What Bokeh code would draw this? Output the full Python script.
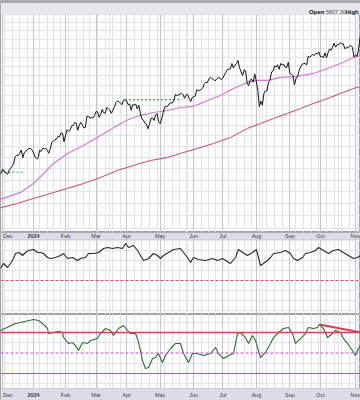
import numpy as np
import pandas as pd
from bokeh.plotting import figure
from bokeh.layouts import column
from bokeh.models import Range1d, FixedTicker, Grid, Span, Label, BoxAnnotation, ColumnDataSource
from bokeh.embed import file_html
from bokeh.resources import INLINE
from bokeh.core.properties import value

# ---------------- calendar (trading sessions) ----------------
HOLIDAYS = ["2023-11-23", "2023-12-25", "2024-01-01", "2024-01-15", "2024-02-19",
            "2024-03-29", "2024-05-27", "2024-06-19", "2024-07-04", "2024-09-02"]
MONTH_STARTS = ["2023-12-01", "2024-01-02", "2024-02-01", "2024-03-01", "2024-04-01", "2024-05-01",
                "2024-06-03", "2024-07-01", "2024-08-01", "2024-09-03", "2024-10-01", "2024-11-01"]
MONTH_LABELS = ["Dec", "2024", "Feb", "Mar", "Apr", "May", "Jun", "Jul", "Aug", "Sep", "Oct", "Nov"]
HEADER_TEXT = ["Open", "5807.30", "High"]

# ---------------- price (daily closes from 2023-11-29) ----------------
CLOSE_START = "2023-11-29"
CLOSES = [
    4550, 4568,
    4595, 4569, 4567, 4549, 4585, 4604, 4622, 4644, 4707, 4720, 4719, 4740, 4768, 4698, 4746, 4755, 4775, 4781, 4783, 4770,
    4743, 4705, 4689, 4697, 4764, 4756, 4783, 4780, 4784, 4766, 4739, 4780, 4840, 4850, 4865, 4869, 4894, 4891, 4928, 4925, 4846,
    4906, 4959, 4943, 4954, 4995, 4998, 5027, 5022, 4953, 5001, 5030, 5006, 4976, 4982, 5087, 5089, 5070, 5078, 5070, 5096,
    5137, 5131, 5079, 5105, 5157, 5124, 5117, 5175, 5165, 5150, 5117, 5149, 5179, 5225, 5241, 5234, 5218, 5204, 5248, 5254,
    5243, 5205, 5211, 5147, 5204, 5202, 5209, 5161, 5199, 5123, 5062, 5051, 5022, 5011, 4967, 5010, 5070, 5072, 5048, 5100, 5116, 5036,
    5018, 5064, 5128, 5181, 5187, 5188, 5214, 5223, 5221, 5247, 5308, 5297, 5303, 5308, 5321, 5307, 5268, 5305, 5306, 5267, 5236, 5278,
    5283, 5291, 5354, 5352, 5347, 5361, 5375, 5421, 5434, 5431, 5473, 5487, 5473, 5465, 5448, 5469, 5478, 5483, 5460,
    5475, 5509, 5537, 5567, 5572, 5577, 5633, 5585, 5615, 5631, 5667, 5589, 5545, 5505, 5564, 5556, 5427, 5399, 5459, 5464, 5436, 5522,
    5446, 5347, 5186, 5240, 5199, 5319, 5344, 5344, 5434, 5455, 5543, 5554, 5608, 5597, 5621, 5571, 5635, 5616, 5625, 5592, 5592, 5648,
    5529, 5520, 5503, 5408, 5471, 5496, 5554, 5596, 5626, 5633, 5634, 5618, 5713, 5703, 5718, 5732, 5722, 5745, 5738, 5762,
    5709, 5710, 5700, 5751, 5696, 5751, 5793, 5780, 5815, 5859, 5815, 5843, 5842, 5864, 5853, 5851, 5797, 5809, 5808, 5823, 5832, 5813, 5705,
    5729, 5712, 5782, 5929,
]
RESIST_LEVELS = [4568, 5254]
RESIST_FROM = [-21.6, 60]
RESIST_TO = [-5.9, 97]

# moving averages (session number, value), session 0 = 2024-01-02
MA50_X = [-21.6, -8.5, 0, 6.6, 13.1, 22.3, 32.8, 43.9, 55.0, 63.6, 70.1, 78.6, 87.8, 96.3, 104.8,
          114.0, 122.5, 131.1, 140.2, 146.8, 153.3, 161.9, 173.0, 183.5, 192.7, 201.2, 209.7, 214.3]
MA50_Y = [4335, 4394, 4470, 4557, 4646, 4737, 4810, 4904, 4999, 5067, 5097, 5126, 5146, 5176, 5186,
          5246, 5297, 5369, 5432, 5453, 5453, 5485, 5495, 5527, 5580, 5634, 5700, 5722]
MA200_X = [-21.6, -10.5, 0, 11.1, 22.3, 32.8, 43.9, 55.0, 65.5, 76.7, 87.8, 96.3, 107.5, 118.0,
           129.1, 140.2, 148.8, 157.3, 166.4, 175.0, 183.5, 192.7, 201.2, 209.7, 214.3]
MA200_Y = [4266, 4301, 4343, 4385, 4428, 4470, 4522, 4584, 4628, 4673, 4700, 4737, 4783, 4829,
           4885, 4971, 5019, 5067, 5117, 5166, 5216, 5266, 5318, 5369, 5390]

# middle indicator
IND_X = [-21.6, -19.7, -17.0, -15.1, -13.1, -11.8, -9.8, -8.5, -7.2, -5.2, -3.3, 0, 2.6, 4.6, 6.6, 9.2, 11.1,
         14.4, 17.7, 19.7, 22.3, 25.6, 28.8, 30.8, 34.1, 36.0, 39.3, 42.6, 45.9, 48.5, 51.8, 55.0, 58.3, 60.3,
         62.3, 65.5, 68.2, 70.1, 72.1, 75.4, 78.6, 81.3, 83.2, 85.2, 88.5, 91.7, 96.3, 98.3, 100.9, 102.9, 104.8,
         108.1, 112.7, 117.3, 120.6, 123.9, 129.1, 132.4, 134.3, 137.0, 140.2, 143.5, 146.1, 147.4, 148.8, 150.7,
         153.3, 155.3, 157.3, 161.9, 165.1, 168.4, 170.4, 173.0, 176.3, 178.2, 181.5, 184.8, 186.8, 190.0, 193.3,
         196.6, 199.9, 203.1, 206.4, 209.7, 212.3, 214.3]
IND_Y = [12, 17, 13, 17, 22, 27, 28, 27, 25, 28, 30, 31, 28, 28, 27, 23, 22,
         23, 25, 27, 22, 23, 20, 22, 23, 27, 27, 28, 32, 33, 32, 33, 32, 37,
         33, 35, 30, 25, 20, 22, 27, 25, 22, 25, 28, 31, 32, 28, 23, 18, 23,
         21, 20, 22, 20, 22, 17, 23, 31, 28, 25, 28, 31, 23, 15, 17,
         20, 23, 27, 28, 30, 27, 22, 20, 23, 27, 28, 30, 33, 30, 27,
         30, 31, 28, 25, 22, 23, 25]
IND_REF = 0

# RSI
RSI_X = [-21.6, -11.8, -8.5, 0, 3.3, 5.9, 9.2, 9.8, 13.1, 16.4, 19.0, 19.7, 22.9, 25.6, 27.5, 29.5, 32.1,
         35.4, 37.4, 41.9, 43.9, 47.2, 50.5, 52.4, 55.7, 59.0, 61.6, 63.6, 66.8, 68.2, 70.1, 71.4, 73.4, 75.4,
         78.0, 79.9, 81.9, 84.5, 86.5, 89.8, 93.1, 96.3, 98.3, 101.6, 104.2, 107.5, 111.4, 116.0, 119.3, 121.2,
         124.5, 127.8, 131.1, 133.7, 135.6, 138.9, 140.9, 143.5, 145.5, 147.4, 148.8, 152.0, 155.3, 157.3, 160.6,
         163.8, 167.1, 169.7, 171.7, 175.0, 178.2, 180.2, 183.5, 186.1, 187.4, 190.0, 192.7, 195.9, 197.9, 201.2,
         203.1, 205.8, 209.0, 211.0, 213.0, 214.3]
RSI_Y = [72, 78.8, 79.8, 82.7, 81.7, 78.8, 73.9, 69.0, 70.0, 71.0, 70.0, 65.1, 59.3, 60.2, 57.3, 52.4, 60.2,
         59.3, 62.2, 64.1, 69.0, 73.9, 72.0, 67.1, 73.9, 76.8, 72.0, 69.0, 69.0, 64.1, 52.4, 42.7, 34.9, 35.9,
         44.6, 45.6, 49.5, 40.7, 47.6, 54.4, 59.3, 59.3, 49.5, 40.7, 49.5, 49.5, 47.6, 49.5, 55.4, 49.5,
         44.6, 47.6, 49.5, 69.0, 70.0, 65.1, 59.3, 67.1, 62.2, 52.4, 45.6, 50.5, 59.3, 65.1, 70.0,
         73.9, 74.9, 69.0, 59.3, 64.1, 69.0, 74.9, 73.9, 74.9, 77.8, 73.9, 65.1, 69.0, 72.0, 70.0,
         64.1, 59.3, 52.4, 47.6, 54.4, 57.3]
RSI_LEVELS = [70, 50, 30]
TREND_X = [187.4, 214.3]
TREND_Y = [77.8, 70.2]

# ---------------- helpers ----------------
hol = pd.to_datetime(HOLIDAYS)
days = pd.bdate_range("2023-11-27", "2024-11-15")
days = days[~days.isin(hol)]
origin = days.get_loc(pd.Timestamp("2024-01-02"))
sess = pd.Series(np.arange(len(days)) - origin, index=days)

month_x = [int(sess[pd.Timestamp(d)]) for d in MONTH_STARTS]
wk = pd.Series(days.isocalendar().week.values, index=days)
week_x = [int(sess[d]) for i, d in enumerate(days) if i == 0 or wk.iloc[i] != wk.iloc[i - 1]]
week_x = [w for w in week_x if w not in month_x]

start = int(sess[pd.Timestamp(CLOSE_START)])
price_x = list(range(start, start + len(CLOSES)))

W = 360
X0, X1 = -21.63, 214.29
xr = Range1d(X0, X1)

GRID_MINOR = "#e1e2ea"
GRID_MAJOR = "#c4c6d0"
PANEL_BG = "#fdfdfe"
OUTLINE = "#9c9ea8"
STRIP_BG = "#dcdde4"
STRIP_LINE = "#8e909a"
FONT = "Liberation Sans"


def panel(h, y_range, y_ticks, log=False):
    p = figure(width=W, height=h, x_range=xr, y_range=y_range,
               y_axis_type="log" if log else "linear",
               x_axis_location=None, y_axis_location=None,
               output_backend="svg", toolbar_location=None, min_border=0)
    p.background_fill_color = PANEL_BG
    p.border_fill_color = PANEL_BG
    p.outline_line_color = OUTLINE
    p.add_layout(Grid(dimension=1, ticker=FixedTicker(ticks=y_ticks), grid_line_color=GRID_MINOR))
    p.add_layout(Grid(dimension=0, ticker=FixedTicker(ticks=week_x), grid_line_color=GRID_MINOR))
    p.add_layout(Grid(dimension=0, ticker=FixedTicker(ticks=month_x), grid_line_color=GRID_MAJOR))
    return p


def month_strip(p, lo, hi, ytext):
    p.add_layout(BoxAnnotation(bottom=lo, top=hi, left=X0, right=X1, fill_color=STRIP_BG, fill_alpha=1,
                               line_color=STRIP_LINE, line_width=1, level="underlay"))
    # the first label sits at the left edge: keep it fully inside the frame
    lx = [max(m, X0 + 0.4) for m in month_x]
    al = ["left" if m < X0 + 4 else "center" for m in month_x]
    src = ColumnDataSource(dict(x=lx, y=[ytext] * len(month_x), t=MONTH_LABELS, a=al,
                                w=["bold" if t.isdigit() else "normal" for t in MONTH_LABELS]))
    p.text(x="x", y="y", text="t", source=src, text_font=value(FONT),
           text_font_size="5.5px", text_align="a", text_baseline="middle",
           text_color="#3a3a44", text_font_style="w")


# ---------------- price panel (with header band on top) ----------------
# frame: y pixel 0..232 ; price 6192 at y=14, 4067 at y=232 (log)
P_LO, P_HI = 4067, 6362
P_HEAD = 6192
pp = panel(232, Range1d(P_LO, P_HI), list(range(4100, 6200, 100)), log=True)
pp.add_layout(BoxAnnotation(bottom=P_HEAD, top=P_HI, left=X0, right=X1, fill_color="#e6e7ec", fill_alpha=1,
                            line_color="#b4b6be", line_width=1, level="underlay"))
pp.add_layout(BoxAnnotation(bottom=6330, top=P_HI, left=X0, right=X1, fill_color="#a6a8b0", fill_alpha=1,
                            line_color=None, level="underlay"))
hx = [180.6, 191.6, 204.4]
hs = ["bold", "normal", "bold"]
hc = ["#111111", "#555555", "#111111"]
hf = ["6px", "5.5px", "6px"]
for t, xx, st, col, fs in zip(HEADER_TEXT, hx, hs, hc, hf):
    pp.add_layout(Label(x=xx, y=6218, text=t, text_font=FONT, text_font_size=fs,
                        text_font_style=st, text_color=col, text_baseline="alphabetic"))

pp.line(MA200_X, MA200_Y, line_color="#bf4b5c", line_width=1)
pp.line(MA50_X, MA50_Y, line_color="#d47ad4", line_width=1.2)
for lv, a, b in zip(RESIST_LEVELS, RESIST_FROM, RESIST_TO):
    pp.line([a, b], [lv, lv], line_color="#3dae3d", line_width=1.2, line_dash="2 2")
pp.line(price_x, CLOSES, line_color="#151515", line_width=1)

# ---------------- middle indicator (with month strip on top) ----------------
# frame: y pixel 232..314 ; value = 280 - y
ip = panel(82, Range1d(-34, 48), [-30, -20, -10, 10, 20, 30, 40])
month_strip(ip, 41, 48, 44.5)
ip.add_layout(Span(location=IND_REF, dimension="width", line_color="#d0507a", line_width=1, line_dash="3 2"))
ip.line(IND_X, IND_Y, line_color="#2a2a2a", line_width=1.1)

# ---------------- RSI (with month strip at bottom) ----------------
# frame: y pixel 314..400 ; rsi = 50 + (352.5 - y)/1.025
rp = panel(86, Range1d(3.66, 87.56), [20, 40, 60, 80])
month_strip(rp, 3.66, 15.37, 9.0)
rp.add_layout(Span(location=RSI_LEVELS[0], dimension="width", line_color="#d0445c", line_width=1.4))
rp.add_layout(Span(location=RSI_LEVELS[1], dimension="width", line_color="#c24fc2", line_width=1, line_dash="3 2"))
rp.add_layout(Span(location=RSI_LEVELS[2], dimension="width", line_color="#4c9c4c", line_width=1.2))
rp.line(RSI_X, RSI_Y, line_color="#2f6f2f", line_width=1.1)
rp.line(TREND_X, TREND_Y, line_color="#d0405a", line_width=2)

layout = column(pp, ip, rp, spacing=0)
open("out.html", "w").write(file_html(layout, INLINE))
